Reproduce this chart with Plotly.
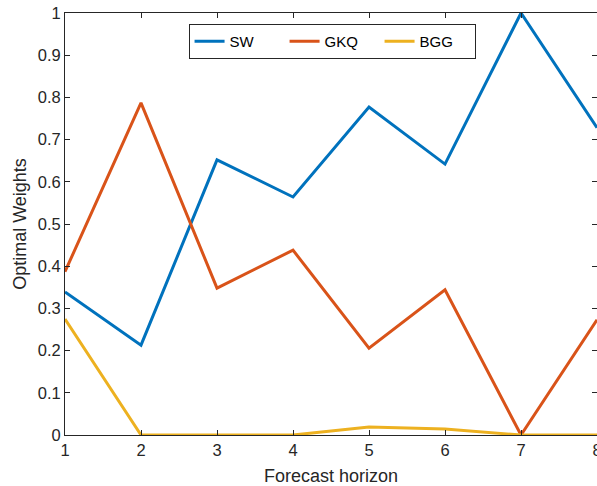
import plotly.graph_objects as go

horizon = [1, 2, 3, 4, 5, 6, 7, 8]
sw = [0.339, 0.213, 0.652, 0.564, 0.777, 0.642, 1.0, 0.728]
gkq = [0.387, 0.787, 0.348, 0.438, 0.206, 0.344, 0.0, 0.273]
bgg = [0.275, 0.0, 0.0, 0.0, 0.019, 0.014, 0.0, 0.0]

names = ["SW", "GKQ", "BGG"]
colors = ["#0072BD", "#D95319", "#EDB120"]

fig = go.Figure()
for name, vals, c in zip(names, [sw, gkq, bgg], colors):
    fig.add_trace(go.Scatter(x=horizon, y=vals, mode="lines", name=name,
                             line=dict(color=c, width=3), cliponaxis=True))

FONT = "Liberation Sans, Arial"
axis_common = dict(
    showgrid=False, zeroline=False, showline=True, linecolor="#262626", linewidth=1,
    mirror="ticks", ticks="inside", ticklen=5, tickcolor="#262626", automargin=False,
    tickfont=dict(family=FONT, size=16.5, color="#262626"),
    ticklabeloverflow="allow",
)

fig.update_layout(
    width=597, height=486,
    paper_bgcolor="white", plot_bgcolor="white",
    margin=dict(l=65, r=0, t=13, b=51),
    font=dict(family=FONT, size=16, color="#262626"),
    xaxis=dict(range=[1, 8], tickvals=horizon, ticktext=[str(h) for h in horizon],
               title=dict(text="Forecast horizon", font=dict(size=18), standoff=14),
               **axis_common),
    yaxis=dict(range=[0, 1], tickvals=[i / 10 for i in range(11)],
               ticktext=["0", "0.1", "0.2", "0.3", "0.4", "0.5", "0.6", "0.7", "0.8", "0.9", "1"],
               title=dict(text="Optimal Weights", font=dict(size=18), standoff=6),
               **axis_common),
    legend=dict(orientation="h", x=0.502, xanchor="center", y=0.974, yanchor="top",
                bordercolor="#262626", borderwidth=1, bgcolor="white",
                font=dict(size=15, color="black"), tracegroupgap=0,
                entrywidth=50, entrywidthmode="pixels"),
    showlegend=True,
)

fig.write_html(
    "out.html",
    config={"displayModeBar": False},
    post_script="document.body.style.margin='0';document.body.style.overflow='hidden';",
)
